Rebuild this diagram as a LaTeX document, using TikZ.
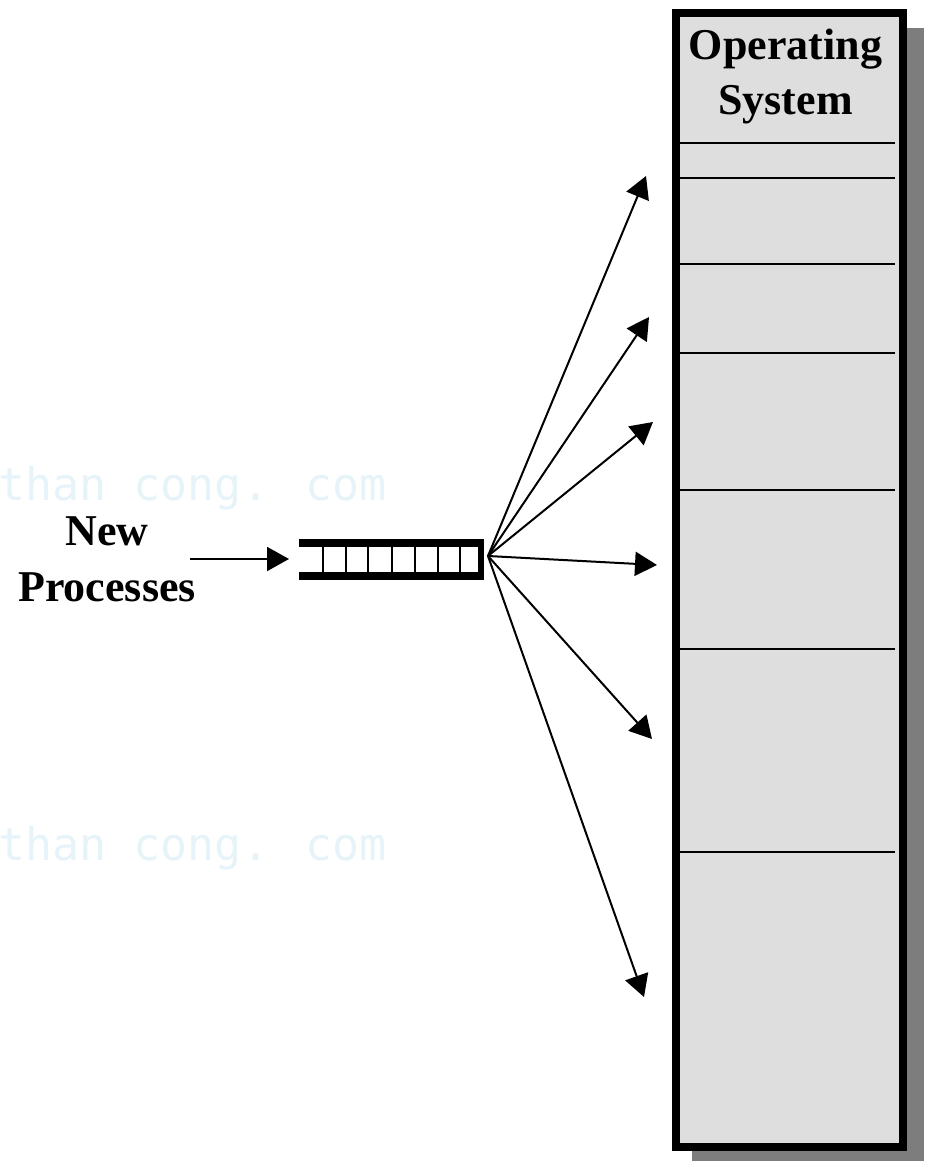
\documentclass[tikz,border=0pt]{standalone}
\usepackage{fontspec}
\setmainfont{Liberation Serif}
\newfontfamily\wmfont{DejaVu Sans Mono}
\usetikzlibrary{arrows.meta}
\definecolor{osfill}{RGB}{222,222,222}
\definecolor{shadowgray}{RGB}{125,125,125}
\definecolor{wmcolor}{RGB}{230,244,250}
\tikzset{
  lbl/.style={font=\fontsize{44}{54}\selectfont\bfseries, inner sep=0pt, anchor=base},
  wm/.style={font=\fontsize{45}{50}\selectfont\wmfont, text=wmcolor, inner sep=0pt, anchor=base west},
  conn/.style={line width=2pt, -{Triangle[length=22pt,width=24pt]}},
  part/.style={line width=2pt},
  bar/.style={fill=black, draw=none},
}
\begin{document}
\begin{tikzpicture}[x=1pt,y=-1pt]
\useasboundingbox (0,0) rectangle (924,1161);
% watermark
\node[wm] (wm1) at (-2,500) {than cong. com};
\node[wm] (wm2) at (-2,860) {than cong. com};
% OS memory box
\fill[shadowgray] (692,28) rectangle (924,1161);
\node[draw=black, line width=8pt, fill=osfill, minimum width=227pt, minimum height=1134pt, inner sep=0pt, anchor=north west] (mem) at (672,9) {};
\foreach \y/\n in {143/b1,178/b2,264/b3,353/b4,490/b5,649/b6,852/b7}{
  \draw[part] (676,\y) coordinate (\n l) -- (895,\y) coordinate (\n r);
}
\node[lbl] (os1) at (785.5,60) {Operating};
\node[lbl] (os2) at (785.5,115) {System};
% label
\node[lbl] (np1) at (107,545) {New};
\node[lbl] (np2) at (107,601) {Processes};
% queue
\node[minimum width=185pt, minimum height=41pt, inner sep=0pt] (q) at (391.5,559.5) {};
\fill[bar] (299,539) rectangle (484,547);
\fill[bar] (299,572) rectangle (484,580);
\fill[bar] (478,539) rectangle (484,580);
\foreach \x in {322.7,345.7,368.3,391.7,415,437.7,460}{
  \draw[line width=2pt] (\x,547) -- (\x,572);
}
% input arrow
\coordinate (in) at (190,559);
\coordinate (qin) at (289,559);
\draw[conn] (in) -- (qin);
% fan-out
\coordinate (o) at (488,556);
\coordinate (t1) at (646,176);
\coordinate (t2) at (649,317);
\coordinate (t3) at (653,422);
\coordinate (t4) at (657,565);
\coordinate (t5) at (652,739);
\coordinate (t6) at (644,997);
\foreach \t in {t1,t2,t3,t4,t5,t6}{
  \draw[conn] (o) -- (\t);
}
\end{tikzpicture}
\end{document}
